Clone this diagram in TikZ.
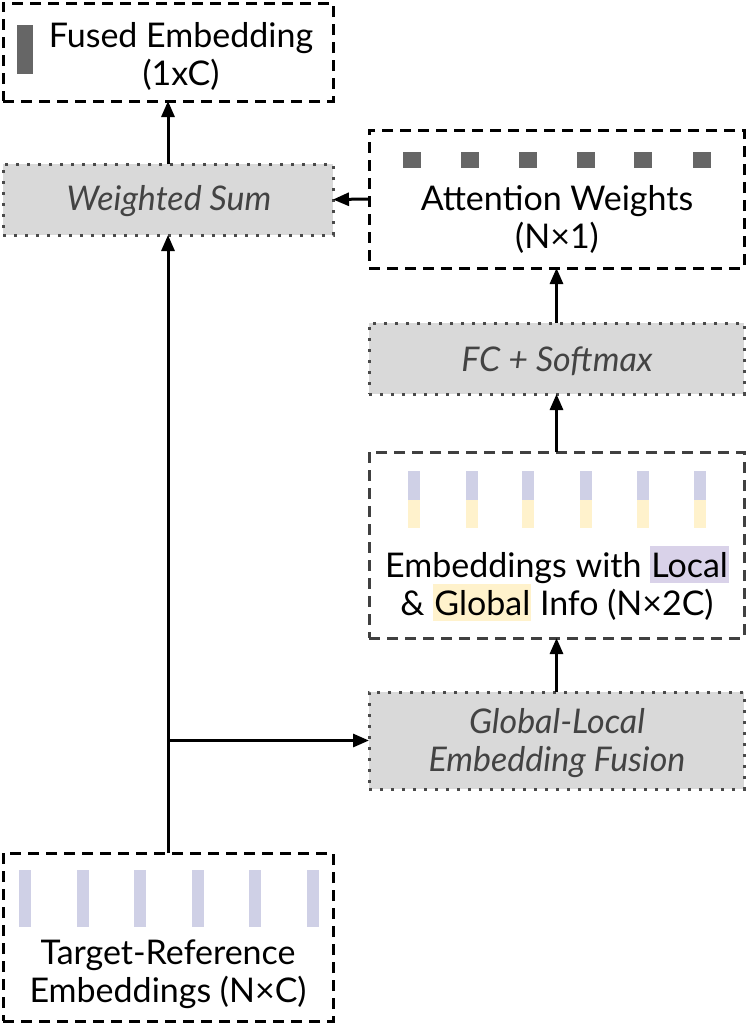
\documentclass[tikz,border=0pt]{standalone}
\usepackage{fontspec}
\setmainfont{Lato}
\usetikzlibrary{arrows.meta}
\definecolor{barpurple}{HTML}{CFD0E6}
\definecolor{baryellow}{HTML}{FFF2CC}
\definecolor{hlpurple}{HTML}{D9D2E9}
\definecolor{hlyellow}{HTML}{FFF2CC}
\definecolor{sqcol}{HTML}{666666}
\definecolor{boxgray}{HTML}{D9D9D9}
\definecolor{dotcol}{HTML}{4A4A4A}
\definecolor{ittext}{HTML}{434343}
\definecolor{embline}{HTML}{404040}
\newcommand{\hlbox}[2]{{\setlength{\fboxsep}{0pt}\colorbox{#1}{\rule[-6pt]{0pt}{37pt}\hspace{1pt}#2\hspace{1pt}}}}
\begin{document}
\begin{tikzpicture}[x=1pt,y=-1pt,
  dbox/.style={draw=black, line width=3pt, dash pattern=on 11pt off 7pt, rectangle, inner sep=0pt, outer sep=0pt},
  gbox/.style={draw=dotcol, fill=boxgray, line width=3pt, dash pattern=on 3pt off 8pt, rectangle, inner sep=0pt, outer sep=0pt},
  lbl/.style={align=center, font=\fontsize{34}{38}\selectfont, anchor=base, inner sep=0pt},
  ilbl/.style={lbl, font=\fontsize{34}{38}\selectfont\itshape, text=ittext},
  conn/.style={line width=3pt, -{Triangle[length=16pt,width=13pt]}},
  ]
\useasboundingbox (0,0) rectangle (747,1023);

% boxes
\node[dbox, minimum width=330pt, minimum height=98pt] (fused) at (168,52) {};
\node[gbox, minimum width=330pt, minimum height=71pt] (wsum) at (168,199.5) {};
\node[dbox, minimum width=375pt, minimum height=138pt] (attn) at (556.5,199) {};
\node[gbox, minimum width=375pt, minimum height=71pt] (fc) at (556.5,358.5) {};
\node[dbox, draw=embline, minimum width=375pt, minimum height=186pt] (emb) at (556.5,545) {};
\node[gbox, minimum width=375pt, minimum height=97pt] (fusion) at (556.5,740.5) {};
\node[dbox, minimum width=330pt, minimum height=168pt] (target) at (168,937) {};

% bars and squares
\fill[sqcol] (17,25) rectangle (33,74);
\foreach \x in {412,470,528,586,643,702} \fill[sqcol] (\x-9,152) rectangle (\x+9,168);
\foreach \x in {414,472,528,586,643,700} {
  \fill[barpurple] (\x-6,471) rectangle (\x+6,500);
  \fill[baryellow] (\x-6,500) rectangle (\x+6,528);
}
\foreach \x in {25,83,140,198,255,313} \fill[barpurple] (\x-6,870) rectangle (\x+6,927);

% texts (base = baseline of last line)
\node[lbl] (fusedtxt) at (181,85) {Fused Embedding\\(1x{}C)};
\node[ilbl] (wsumtxt) at (169,210) {Weighted Sum};
\node[lbl] (attntxt) at (557,248) {Attention Weights\\(N×1)};
\node[ilbl] (fctxt) at (557,371) {FC + Softmax};
\node[lbl] (embtxt) at (557,615) {Embeddings with \hlbox{hlpurple}{Local}\\\& \hlbox{hlyellow}{Global} Info (N×2C)};
\node[ilbl] (fusiontxt) at (557,771) {Global-Local\\Embedding Fusion};
\node[lbl] (targettxt) at (168,1002) {Target-Reference\\Embeddings (N×C)};

% connectors
\coordinate (br) at (target.north |- fusion.west);
\draw[conn] (wsum.north) -- (fused.south);
\draw[conn] (target.north) -- (wsum.south);
\draw[conn] (attn.west) -- (wsum.east);
\draw[conn] (fc.north) -- (attn.south);
\draw[conn] (emb.north) -- (fc.south);
\draw[conn] (fusion.north) -- (emb.south);
\draw[conn] (br) -- (fusion.west);
\end{tikzpicture}
\end{document}
